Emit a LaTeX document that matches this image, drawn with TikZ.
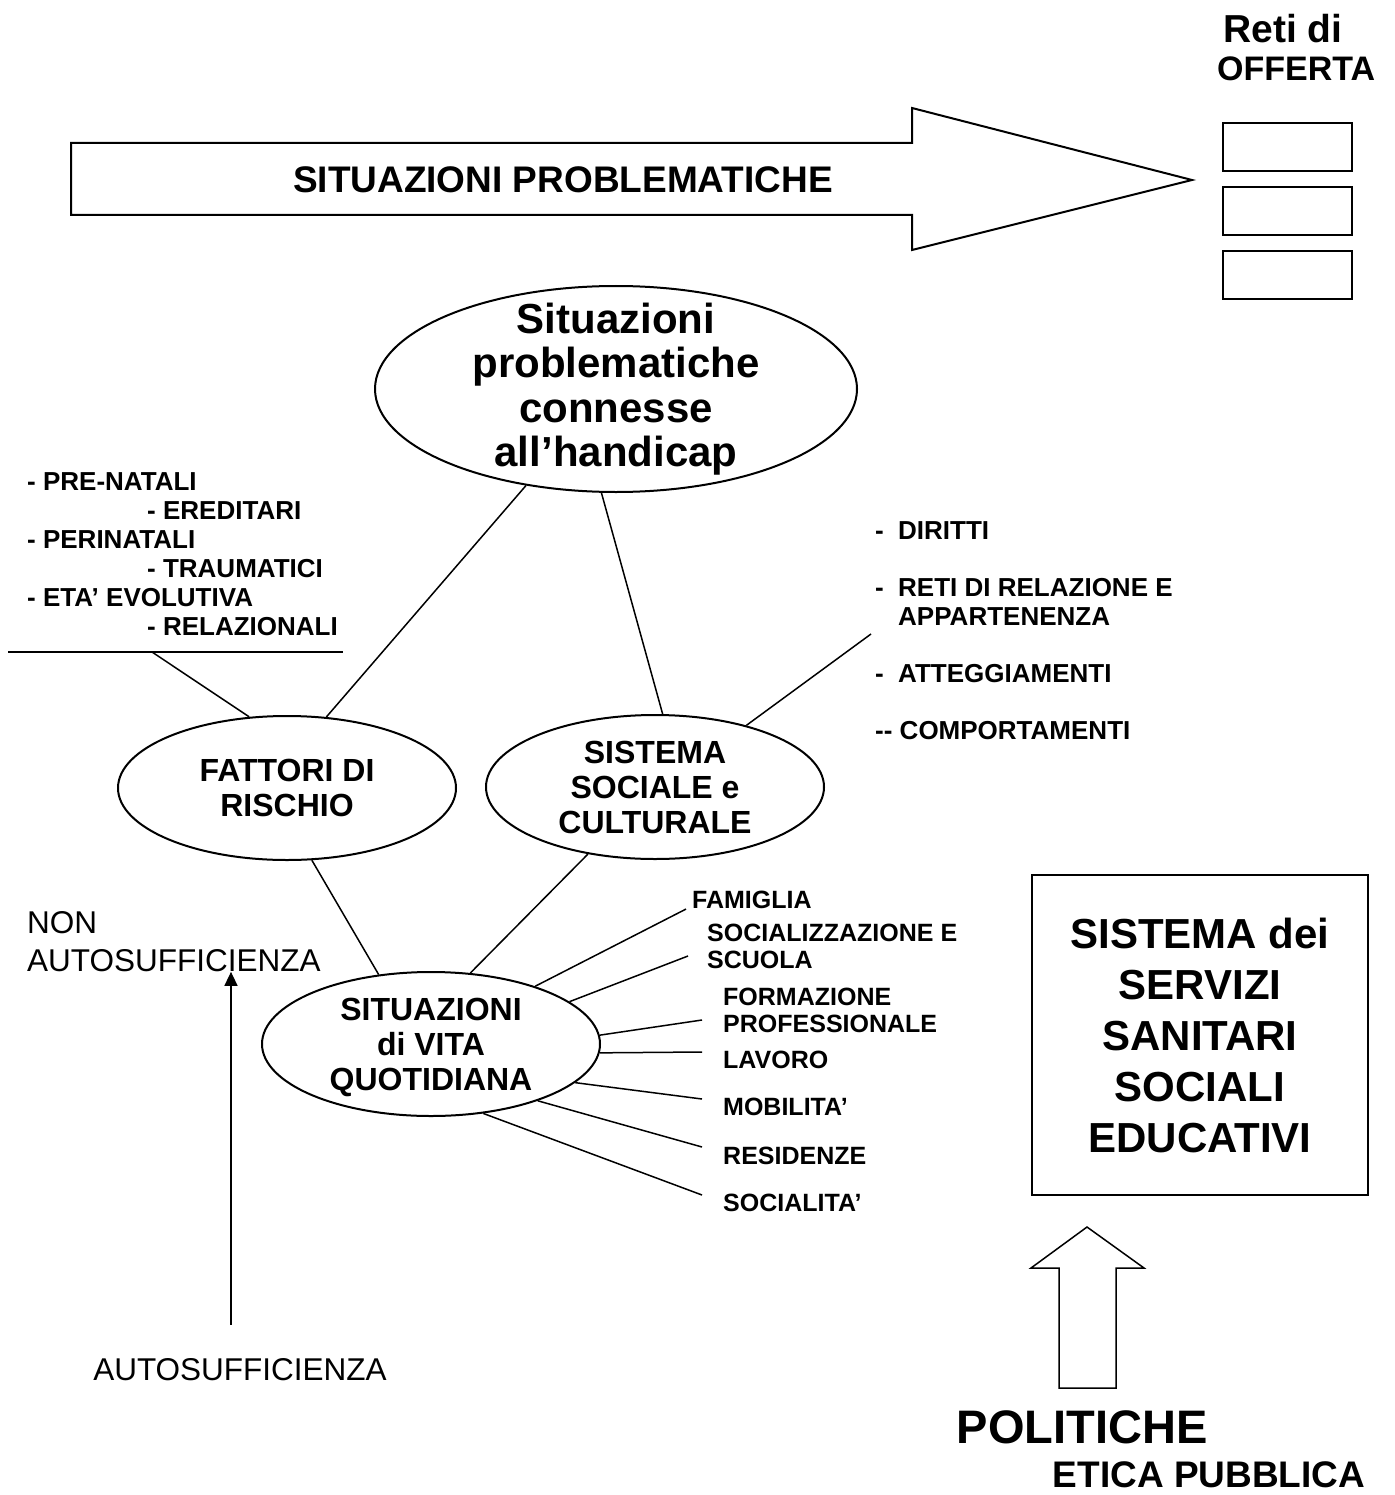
\documentclass[tikz,border=0pt]{standalone}
\usepackage{fontspec}
\setmainfont{Liberation Sans}
\usetikzlibrary{arrows.meta,shapes.geometric}
\newcommand{\fsz}[2]{\fontsize{#1}{#2}\selectfont}
\tikzset{
  >={Triangle[length=14pt,width=13pt]},
  every node/.style={inner sep=0pt},
  oval/.style={ellipse,draw,line width=2pt,minimum width=338pt,minimum height=144pt},
  ovaltext/.style={font=\fsz{32}{35}\bfseries,align=center},
  listtext/.style={font=\fsz{26}{29}\bfseries,align=left,anchor=west},
  raytext/.style={font=\fsz{25}{27}\bfseries,align=left,anchor=west},
  normaltext/.style={font=\fsz{31.5}{38},align=left},
  slot/.style={draw,line width=2pt,minimum width=129pt,minimum height=48pt},
  servbox/.style={draw,line width=2pt,minimum width=336pt,minimum height=320pt,font=\fsz{42}{51}\bfseries,align=center},
  link/.style={line width=1.5pt},
  blockarrow/.style={draw,line join=miter},
}

\begin{document}
\begin{tikzpicture}[x=1pt,y=-1pt]
  \useasboundingbox (0,0) rectangle (1394,1495);
  % big arrow to the offer networks
  \draw[blockarrow,line width=2pt] (71,143) -- (912,143) -- (912,108) -- (1192,180) -- (912,250) -- (912,215) -- (71,215) -- cycle;
  \node[font=\fsz{37}{42}\bfseries] (sitprob) at (563,180) {SITUAZIONI PROBLEMATICHE};
  \node[font=\fsz{34}{38}\bfseries,align=left,anchor=west] (reti) at (1217,48) {\hspace*{6pt}{\fsz{39}{38}Reti di}\\OFFERTA};
  \node[slot] (slot1) at (1287.5,147) {};
  \node[slot] (slot2) at (1287.5,211.5) {};
  \node[slot] (slot3) at (1287.5,275) {};

  % ellipses
  \node[oval,minimum width=482pt,minimum height=206pt,
    label={[font=\fsz{42}{44.5}\bfseries,align=center]center:Situazioni\\problematiche\\connesse\\all’handicap}] (handicap) at (616,389) {};
  \node[oval,label={[ovaltext]center:FATTORI DI\\RISCHIO}] (fattori) at (287,788) {};
  \node[oval,label={[ovaltext]center:SISTEMA\\SOCIALE e\\CULTURALE}] (sistema) at (655,787) {};
  \node[oval,label={[ovaltext,yshift=-3pt]center:SITUAZIONI\\di VITA\\QUOTIDIANA}] (vita) at (431,1044) {};

  % risk factors list
  \node[listtext] (fattlist) at (27,554.5) {- PRE-NATALI\\\hspace*{120pt}- EREDITARI\\- PERINATALI\\\hspace*{120pt}- TRAUMATICI\\- ETA’ EVOLUTIVA\\\hspace*{120pt}- RELAZIONALI};
  \coordinate (ulleft) at (8,652);
  \coordinate (ulright) at (343,652);
  \coordinate (ulknee) at (152,652);
  \draw[link] (ulleft) -- (ulright);
  \draw[link] (ulknee) -- (fattori.118);

  % social system list
  \node[listtext] (socialist) at (875,631) {\makebox[23pt][l]{-}DIRITTI\\[28pt]\makebox[23pt][l]{-}RETI DI RELAZIONE E\\\hspace*{23pt}APPARTENENZA\\[28pt]\makebox[23pt][l]{-}ATTEGGIAMENTI\\[28pt]-\kern0pt- COMPORTAMENTI};
  \draw[link] (sistema.34) -- ([shift={(-4pt,-3pt)}]socialist.west);

  % daily life areas
  \node[raytext] (famiglia) at (692,900) {FAMIGLIA};
  \node[raytext] (scuola) at (707,946.5) {SOCIALIZZAZIONE E\\SCUOLA};
  \node[raytext] (formazione) at (723,1010) {FORMAZIONE\\PROFESSIONALE};
  \node[raytext] (lavoro) at (723,1060) {LAVORO};
  \node[raytext] (mobilita) at (723,1107) {MOBILITA’};
  \node[raytext] (residenze) at (723,1156) {RESIDENZE};
  \node[raytext] (socialita) at (723,1203) {SOCIALITA’};

  \draw[link] (handicap.227) -- (fattori.61);
  \draw[link] (handicap.262) -- (sistema.84);
  \draw[link] (fattori.289) -- (vita.127);
  \draw[link] (sistema.225) -- (vita.61);
  \draw[link] (vita.29) -- ([xshift=-6pt]famiglia.south west);
  \draw[link] (vita.17) -- ([shift={(-19pt,-9.5pt)}]scuola.west);
  \draw[link] (vita.3) -- ([shift={(-21pt,-10pt)}]formazione.west);
  \draw[link] (vita.-3) -- ([shift={(-21pt,8pt)}]lavoro.west);
  \draw[link] (vita.-15) -- ([shift={(-21pt,8pt)}]mobilita.west);
  \draw[link] (vita.-28) -- ([shift={(-21pt,9pt)}]residenze.west);
  \draw[link] (vita.-53) -- ([shift={(-21pt,8pt)}]socialita.west);

  % autonomy axis
  \node[normaltext,anchor=west] (nonauto) at (27,941.5) {NON\\AUTOSUFFICIENZA};
  \node[normaltext] (auto) at (240,1370) {AUTOSUFFICIENZA};
  \draw[link,->] ([xshift=-9pt,yshift=34pt]auto.north) -- ([xshift=-9pt]auto.north |- nonauto.south);

  % services and policies
  \node[servbox] (servizi) at (1200,1035) {SISTEMA dei\\SERVIZI\\SANITARI\\SOCIALI\\EDUCATIVI};
  \draw[blockarrow,line width=1.5pt] (1059,1388) -- (1059,1268) -- (1031,1268) -- (1087,1227) -- (1144,1268) -- (1116,1268) -- (1116,1388) -- cycle;
  \node[font=\fsz{47}{50}\bfseries] (politiche) at (1082,1427) {POLITICHE};
  \node[font=\fsz{37}{40}\bfseries] (etica) at (1209,1475) {ETICA PUBBLICA};
\end{tikzpicture}
\end{document}
